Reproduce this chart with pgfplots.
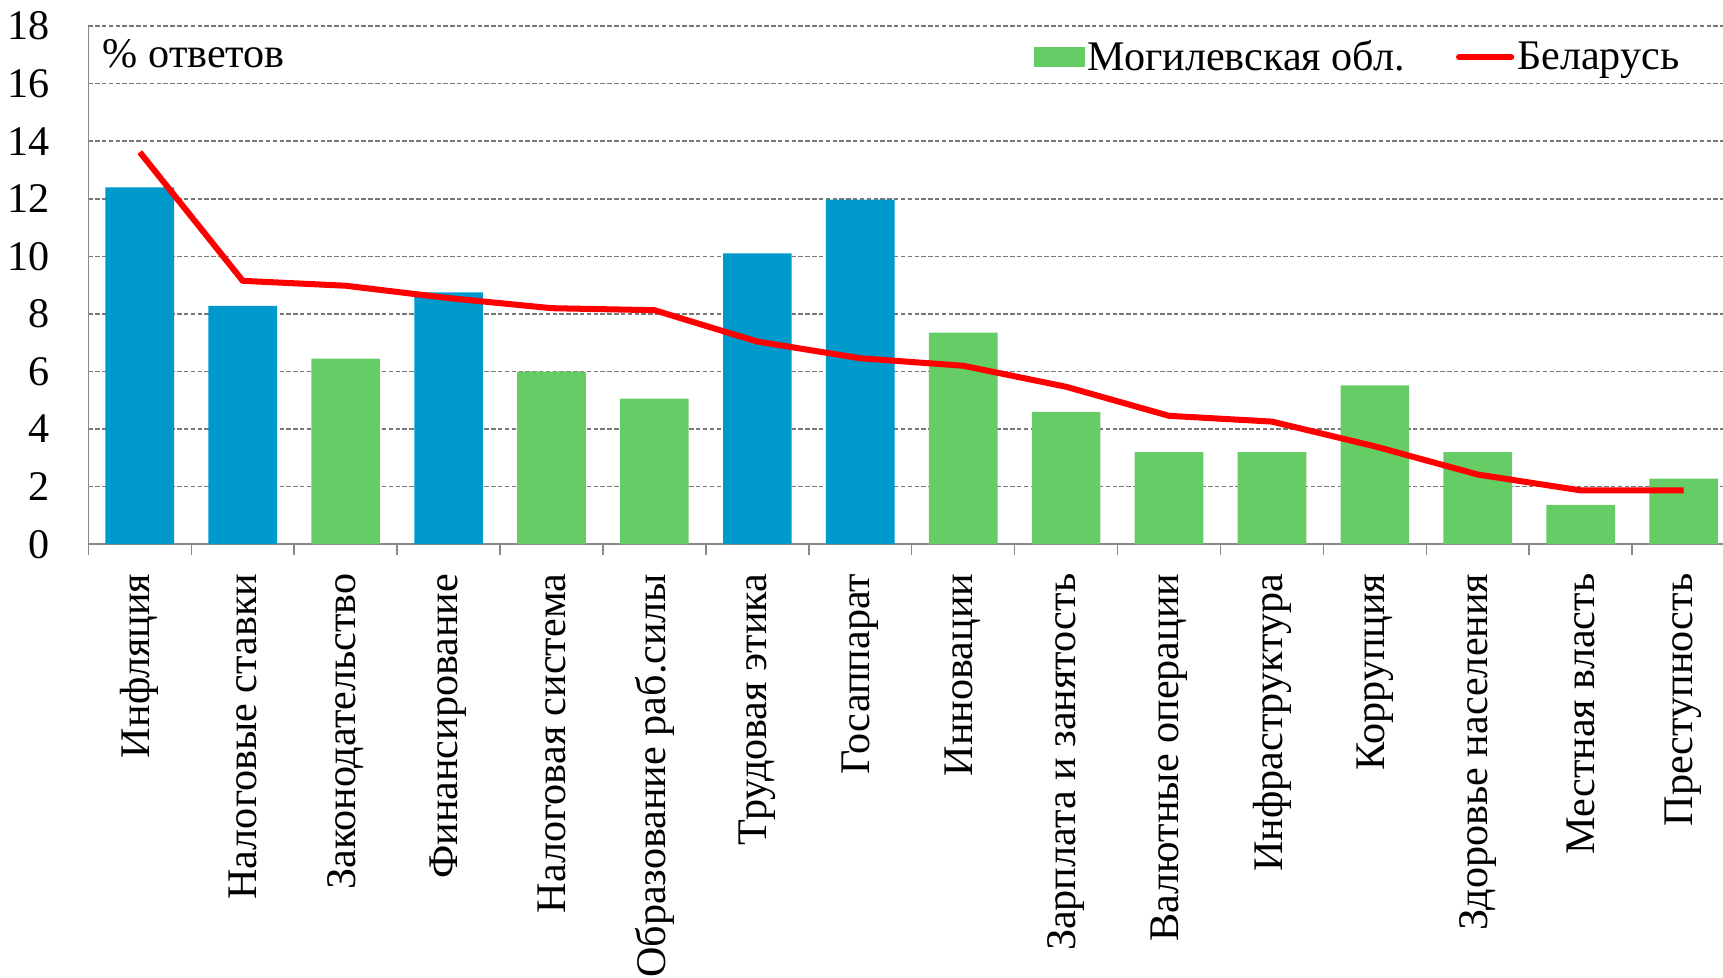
\documentclass[border=0pt]{standalone}
\usepackage{pgfplots}
\pgfplotsset{compat=1.18}
\usepackage{fontspec}
\setmainfont{Liberation Serif}
\definecolor{barBlue}{RGB}{0,153,204}
\definecolor{barGreen}{RGB}{102,204,102}
\definecolor{axisGray}{RGB}{137,137,137}
\definecolor{gridGray}{RGB}{120,120,120}
\begin{document}
\begin{tikzpicture}[trim right=814pt]
\begin{axis}[
  scale only axis, width=820pt, height=258pt,
  xmin=-0.5, xmax=15.5, ymin=0, ymax=18,
  ytick={0,2,...,18},
  xtick={0,...,15},
  xticklabels={Инфляция,Налоговые ставки,Законодательство,Финансирование,Налоговая система,Образование раб.силы,Трудовая этика,Госаппарат,Инновации,Зарплата и занятость,Валютные операции,Инфраструктура,Коррупция,Здоровье населения,Местная власть,Преступность},
  minor xtick={-0.5,0.5,...,15.5},
  axis x line*=bottom, axis y line*=left,
  axis line style={axisGray, line width=0.75pt, -},
  ymajorgrids,
  grid style={gridGray, line width=0.75pt, dash pattern=on 2.2pt off 1.2pt},
  major tick length=0pt, minor tick length=5.5pt, tick align=outside,
  minor tick style={axisGray, line width=0.75pt},
  /pgf/number format/assume math mode=true,
  tick label style={font=\fontsize{21}{25}\selectfont},
  xticklabel style={rotate=90, anchor=east, inner sep=0pt},
  xticklabel shift=14.5pt,
  yticklabel style={inner sep=0pt, xshift=-19pt},
  legend style={at={(axis description cs:0.972,0.94)}, anchor=east, draw=none, fill=none,
    font=\fontsize{21}{25}\selectfont, legend columns=2,
    nodes={inner sep=1.5pt},
    /tikz/every even column/.append style={column sep=24pt}},
]
\addplot[ybar, bar width=0.667, bar shift=0pt, fill=barBlue, draw=none, forget plot]
  coordinates {(0,12.4) (1,8.28) (3,8.75) (6,10.1) (7,11.97)};
\addplot[ybar, bar width=0.667, bar shift=0pt, fill=barGreen, draw=none,
  legend image code/.code={\fill[barGreen] (0pt,-5pt) rectangle (25pt,5pt);}]
  coordinates {(2,6.45) (4,6.0) (5,5.06) (8,7.35) (9,4.6) (10,3.2) (11,3.2) (12,5.52) (13,3.2) (14,1.37) (15,2.28)};
\addlegendentry{Могилевская обл.}
\addplot[red, line width=3pt, line join=round, mark=none,
  legend image code/.code={\draw[red, line width=3pt, line cap=round] (0pt,0pt) -- (26pt,0pt);}]
  coordinates {(0,13.62) (1,9.15) (2,8.98) (3,8.55) (4,8.2) (5,8.13) (6,7.04) (7,6.46) (8,6.2) (9,5.47) (10,4.46) (11,4.26) (12,3.4) (13,2.42) (14,1.87) (15,1.87)};
\addlegendentry{Беларусь}
\node[anchor=west, inner sep=0pt, font=\fontsize{21}{25}\selectfont] at ([xshift=7pt,yshift=-14pt]rel axis cs:0,1) {\% ответов};
\end{axis}
\path ([yshift=13pt,xshift=-44pt]current axis.north west);
\end{tikzpicture}
\end{document}
